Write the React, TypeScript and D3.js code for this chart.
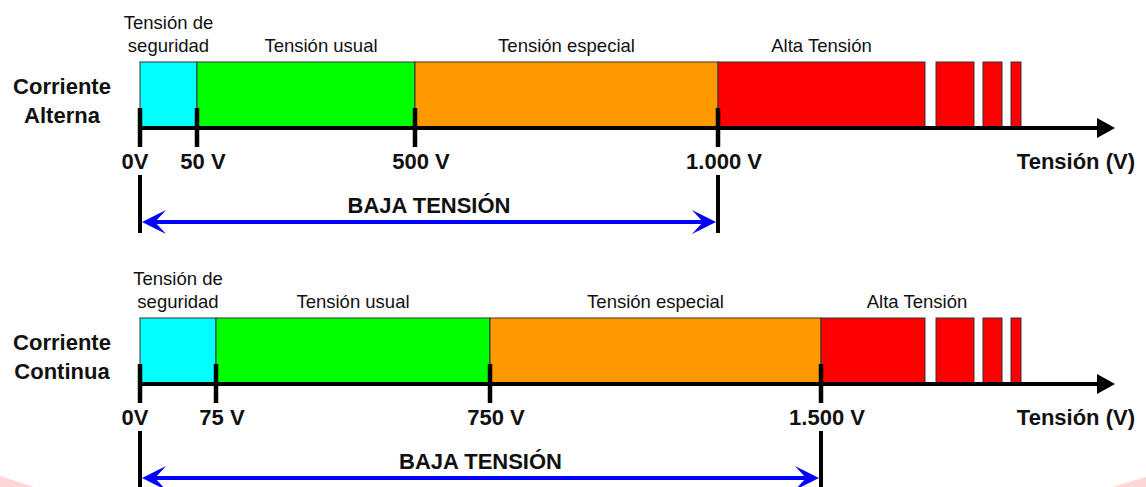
import React, { useRef, useEffect } from 'react';
import * as d3 from 'd3';

// chart data
const acTitle = ['Corriente', 'Alterna'];
const dcTitle = ['Corriente', 'Continua'];
const acBreaks = [0, 50, 500, 1000];
const dcBreaks = [0, 75, 750, 1500];
const acTickLabels = ['0V', '50 V', '500 V', '1.000 V'];
const dcTickLabels = ['0V', '75 V', '750 V', '1.500 V'];
const zoneNames = [['Tensión de', 'seguridad'], ['Tensión usual'], ['Tensión especial'], ['Alta Tensión']];
const zoneColors = ['#00FFFF', '#00FF00', '#FF9900', '#FF0000'];
const lowVoltageLabel = 'BAJA TENSIÓN';
const axisTitle = 'Tensión (V)';

const FONT = '"Liberation Sans", Arial, Helvetica, sans-serif';

const App: React.FC = () => {
  const width = 1146;
  const height = 487;
  const svgRef = useRef<SVGSVGElement>(null);

  useEffect(() => {
    if (!svgRef.current) return;
    const svg = d3.select(svgRef.current);
    svg.selectAll('*').remove();

    const x0 = 140;
    const arrowTip = 1115;
    const arrowBase = 1097;
    const barTop = 62;
    const axisY = 128;
    const redEnd = 785;
    const stripes = [[796, 834], [843, 862], [871, 881]];

    // faint watermark corners
    svg.append('path').attr('d', 'M0,476 L34,487 L0,487 Z').attr('fill', '#ffd6d6');
    svg.append('path').attr('d', 'M1112,487 L1146,477 L1146,487 Z').attr('fill', '#ffd6d6');

    const panels = [
      { title: acTitle, breaks: acBreaks, ticks: acTickLabels, stops: [0, 57, 275, 578], shift: [0, 15, 0, 0], dy: 0 },
      { title: dcTitle, breaks: dcBreaks, ticks: dcTickLabels, stops: [0, 76, 350, 681], shift: [0, 0, 0, 44], dy: 256 },
    ];

    panels.forEach(p => {
      const x = d3.scaleLinear().domain(p.breaks).range(p.stops.map(s => x0 + s));
      const g = svg.append('g').attr('transform', `translate(0,${p.dy})`);
      const last = p.breaks[p.breaks.length - 1];

      // zones
      const zoneEdges = p.breaks.map((b, i) => [x(b), i < p.breaks.length - 1 ? x(p.breaks[i + 1]) : x0 + redEnd]);
      g.selectAll('rect.zone')
        .data(zoneEdges)
        .enter()
        .append('rect')
        .attr('x', d => d[0])
        .attr('y', barTop)
        .attr('width', d => d[1] - d[0])
        .attr('height', axisY - barTop)
        .attr('fill', (_, i) => zoneColors[i])
        .attr('stroke', '#333')
        .attr('stroke-width', 1);

      g.selectAll('rect.stripe')
        .data(stripes)
        .enter()
        .append('rect')
        .attr('x', d => x0 + d[0])
        .attr('y', barTop)
        .attr('width', d => d[1] - d[0])
        .attr('height', axisY - barTop)
        .attr('fill', zoneColors[3])
        .attr('stroke', '#333')
        .attr('stroke-width', 1);

      // zone labels
      zoneEdges.forEach((d, i) => {
        const lines = zoneNames[i];
        const cx = (d[0] + d[1]) / 2 + p.shift[i];
        lines.forEach((t, j) => {
          g.append('text')
            .attr('x', cx)
            .attr('y', barTop - 10 - (lines.length - 1 - j) * 23)
            .attr('text-anchor', 'middle')
            .attr('font-family', FONT)
            .attr('font-size', 18.5)
            .attr('fill', '#111')
            .text(t);
        });
      });

      // axis
      g.append('line')
        .attr('x1', x0).attr('x2', arrowBase + 2)
        .attr('y1', axisY).attr('y2', axisY)
        .attr('stroke', '#000').attr('stroke-width', 4);
      g.append('path')
        .attr('d', `M${arrowBase},${axisY - 10} L${arrowTip},${axisY} L${arrowBase},${axisY + 10} Z`)
        .attr('fill', '#000');

      // ticks
      g.selectAll('line.tick')
        .data(p.breaks)
        .enter()
        .append('line')
        .attr('x1', d => x(d)).attr('x2', d => x(d))
        .attr('y1', axisY - 20).attr('y2', axisY + 19)
        .attr('stroke', '#000').attr('stroke-width', 4.5);

      g.selectAll('text.tick')
        .data(p.breaks)
        .enter()
        .append('text')
        .attr('x', (d, i) => x(d) + (i === 0 ? -5 : 6))
        .attr('y', axisY + 41)
        .attr('text-anchor', 'middle')
        .attr('font-family', FONT)
        .attr('font-weight', 'bold')
        .attr('font-size', 22)
        .attr('fill', '#111')
        .text((_, i) => p.ticks[i]);

      g.append('text')
        .attr('x', 1135).attr('y', axisY + 41)
        .attr('text-anchor', 'end')
        .attr('font-family', FONT)
        .attr('font-weight', 'bold')
        .attr('font-size', 22)
        .attr('fill', '#111')
        .text(axisTitle);

      // row title
      p.title.forEach((t, j) => {
        g.append('text')
          .attr('x', 62).attr('y', 94 + j * 29)
          .attr('text-anchor', 'middle')
          .attr('font-family', FONT)
          .attr('font-weight', 'bold')
          .attr('font-size', 22)
          .attr('fill', '#111')
          .text(t);
      });

      // baja tension bracket
      [0, last].forEach(v => {
        g.append('line')
          .attr('x1', x(v)).attr('x2', x(v))
          .attr('y1', axisY + 47).attr('y2', axisY + 105)
          .attr('stroke', '#000').attr('stroke-width', 4);
      });
      const ay = axisY + 94;
      const l = x(0) + 2;
      const r = x(last) - 2;
      g.append('line')
        .attr('x1', l + 10).attr('x2', r - 10)
        .attr('y1', ay).attr('y2', ay)
        .attr('stroke', '#0000FF').attr('stroke-width', 4);
      g.append('path')
        .attr('d', `M${l},${ay} L${l + 24},${ay - 12} L${l + 13},${ay} L${l + 24},${ay + 12} Z`)
        .attr('fill', '#0000FF');
      g.append('path')
        .attr('d', `M${r},${ay} L${r - 24},${ay - 12} L${r - 13},${ay} L${r - 24},${ay + 12} Z`)
        .attr('fill', '#0000FF');
      g.append('text')
        .attr('x', (x(0) + x(last)) / 2).attr('y', axisY + 85)
        .attr('text-anchor', 'middle')
        .attr('font-family', FONT)
        .attr('font-weight', 'bold')
        .attr('font-size', 22)
        .attr('fill', '#111')
        .text(lowVoltageLabel);
    });
  }, []);

  return (
    <svg
      ref={svgRef}
      width={width}
      height={height}
      style={{ position: 'fixed', left: 0, top: 0, background: '#fff' }}
    />
  );
};

export default App;
